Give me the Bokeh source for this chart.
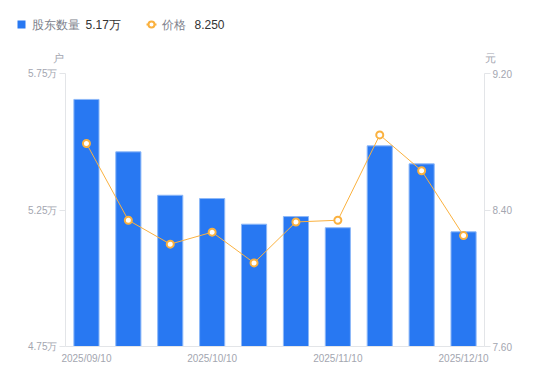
from bokeh.plotting import figure
from bokeh.models import (Range1d, LinearAxis, FixedTicker, PrintfTickFormatter,
                          ColumnDataSource)
from bokeh.layouts import column
from bokeh.embed import file_html
from bokeh.resources import INLINE
from bokeh.core.properties import value

dates = ["2025/09/10", "2025/09/19", "2025/09/30", "2025/10/10", "2025/10/20",
         "2025/10/31", "2025/11/10", "2025/11/20", "2025/11/28", "2025/12/10"]
holders = [5.655, 5.463, 5.304, 5.292, 5.198, 5.226, 5.185, 5.485, 5.419, 5.17]  # 万户
price = [8.79, 8.34, 8.20, 8.27, 8.09, 8.33, 8.34, 8.84, 8.63, 8.25]
label_ticks = [0, 3, 6, 9]

BLUE = "#2878F2"
ORANGE = "#FAB13F"
AXIS_C = "#E3E5E8"
TICK_TXT = "#A3A6B0"
FONT = "Liberation Sans"

W, H = 542, 373
HH = 66                               # header height
FL, FR, FT, FB = 65, 484, 73, 346     # frame edges in page pixels
X0, X1 = -0.5, 9.5
Y0, Y1 = 4.75, 5.75

idx = list(range(len(dates)))

# ---------------- header (legend + unit captions) ----------------
hdr = figure(width=W, height=HH, x_range=Range1d(0, W), y_range=Range1d(0, HH),
             output_backend="svg", toolbar_location=None, min_border=0,
             x_axis_location=None, y_axis_location=None)
hdr.grid.visible = False
hdr.outline_line_color = None

def hy(y):
    return HH - y

def htext(x, y, text, color, size="12px", align="left"):
    hdr.text([x], [hy(y)], text=[text], text_font=value(FONT), text_font_size=size,
             text_color=color, text_align=align, text_baseline="middle")

LY = 24
hdr.scatter([21], [hy(LY)], marker="square", size=8, fill_color=BLUE, line_color=None)
htext(31, LY, "股东数量", "#7D818B")
htext(85, LY, f"{holders[-1]:.2f}万", "#333333")
hdr.line([146, 156], [hy(LY), hy(LY)], line_color=ORANGE, line_width=2)
hdr.scatter([151], [hy(LY)], marker="circle", size=6, fill_color="white",
            line_color=ORANGE, line_width=2)
htext(161, LY, "价格", "#7D818B")
htext(194, LY, f"{price[-1]:.3f}", "#333333")
htext(58, 57, "户", TICK_TXT, "11px", "center")
htext(490, 57, "元", TICK_TXT, "11px", "center")

# ---------------- main chart ----------------
p = figure(width=W, height=H - HH, x_range=Range1d(X0, X1), y_range=Range1d(Y0, Y1),
           output_backend="svg", toolbar_location=None,
           min_border_left=FL, min_border_right=W - FR,
           min_border_top=FT - HH, min_border_bottom=H - FB)
p.extra_y_ranges = {"price": Range1d(7.6, 9.2)}
p.grid.visible = False
p.outline_line_color = None

for fig in (hdr, p):
    try:
        fig.frame_align = False
    except Exception:
        pass

src = ColumnDataSource(dict(x=idx, h=holders, pr=price))
p.vbar(x="x", top="h", bottom=Y0, width=0.6, source=src, fill_color=BLUE,
       line_color="#8DB8F8", line_width=1)
p.line(x="x", y="pr", source=src, y_range_name="price", line_color=ORANGE, line_width=1)
p.scatter(x="x", y="pr", source=src, y_range_name="price", marker="circle", size=7,
          fill_color="white", line_color=ORANGE, line_width=2)

def style_axis(ax):
    ax.axis_line_color = AXIS_C
    ax.major_tick_line_color = AXIS_C
    ax.minor_tick_line_color = None
    ax.major_tick_in = 0
    ax.major_tick_out = 6
    ax.major_label_text_color = TICK_TXT
    ax.major_label_text_font = FONT
    ax.major_label_text_font_size = "10px"
    ax.major_label_standoff = 2

la = p.yaxis[0]
la.ticker = FixedTicker(ticks=[4.75, 5.25, 5.75])
la.formatter = PrintfTickFormatter(format="%.2f万")
style_axis(la)

ra = LinearAxis(y_range_name="price", ticker=FixedTicker(ticks=[7.6, 8.4, 9.2]),
                formatter=PrintfTickFormatter(format="%.2f"))
style_axis(ra)
p.add_layout(ra, "right")

xa = p.xaxis[0]
xa.ticker = FixedTicker(ticks=label_ticks)
xa.major_label_overrides = {i: dates[i] for i in label_ticks}
style_axis(xa)
xa.major_tick_out = 0
xa.major_label_standoff = 6

layout = column(hdr, p, spacing=0)
open("out.html", "w").write(file_html(layout, INLINE))
